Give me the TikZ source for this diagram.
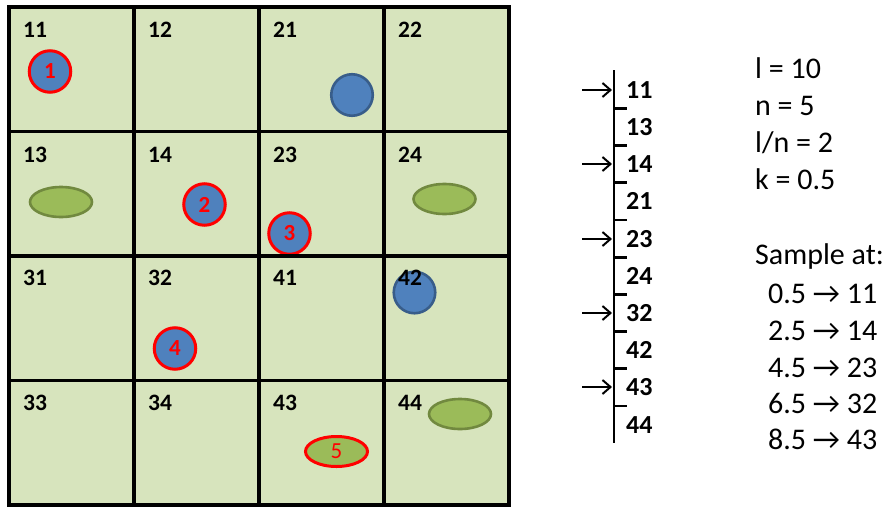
\documentclass[tikz,border=0pt]{standalone}
\usepackage{fontspec}
\setmainfont{Carlito}
\usetikzlibrary{arrows.meta,shapes.geometric}
\definecolor{cellfill}{HTML}{D7E4BD}
\definecolor{bluefill}{HTML}{4F81BD}
\definecolor{blueline}{HTML}{385D8A}
\definecolor{greenfill}{HTML}{9BBB59}
\definecolor{greenline}{HTML}{71893F}
\definecolor{redline}{HTML}{FF0000}
\begin{document}
\begin{tikzpicture}[x=1pt,y=-1pt,
  gridline/.style={line width=3.6pt,black},
  bluedot/.style={circle,fill=bluefill,draw=blueline,line width=2.6pt,minimum size=41.5pt,inner sep=0pt},
  greenoval/.style={ellipse,fill=greenfill,draw=greenline,line width=2.6pt,minimum width=62pt,minimum height=30pt,inner sep=0pt},
  picked/.style={draw=redline,line width=3pt,text=redline,font=\fontsize{23}{27}\selectfont\bfseries},
  celllabel/.style={inner sep=0pt,font=\fontsize{23.5}{28}\selectfont\bfseries},
  axislabel/.style={inner sep=0pt,anchor=west,font=\fontsize{26}{31}\selectfont\bfseries},
  axisline/.style={line width=2.4pt,black},
  pickarrow/.style={line width=2pt,-{Straight Barb[length=8pt,width=14pt,line width=2pt]}},
  sidetext/.style={inner sep=0pt,anchor=base west,font=\fontsize{30}{36}\selectfont}
]
\useasboundingbox (0,0) rectangle (891,506);
% grid background
\fill[cellfill] (9,7) rectangle (509,505);
% shapes
\node[bluedot,picked] (s1) at (50,71.5) {1};
\node[bluedot] (b21) at (352,95) {};
\node[greenoval] (g13) at (61,202) {};
\node[bluedot,picked] (s2) at (204.5,204.5) {2};
\node[bluedot,picked] (s3) at (289.5,233.5) {3};
\node[greenoval] (g24) at (444.5,199) {};
\node[bluedot,picked] (s4) at (175,348.5) {4};
\node[bluedot] (b42) at (414.5,292.5) {};
\node[greenoval] (g44) at (460,414) {};
\node[greenoval,picked,font=\fontsize{23}{27}\selectfont] (s5) at (336.5,451.5) {5};
% grid lines
\draw[gridline] (9,7) rectangle (509,505);
\foreach \gx in {134,259,384} \draw[gridline] (\gx,7) -- (\gx,505);
\foreach \gy in {131.5,256,380.5} \draw[gridline] (9,\gy) -- (509,\gy);
% cell labels
\foreach \lab/\lx/\ly in {11/35/29.5,12/160/29.5,21/285/29.5,22/410/29.5,
  13/35/154.5,14/160/154.5,23/285/154.5,24/410/154.5,
  31/35/278,32/160/278,41/285/278,42/410/278,
  33/35/402.5,34/160/402.5,43/285/402.5,44/410/402.5}
  \node[celllabel] (c\lab) at (\lx,\ly) {\lab};
% axis
\coordinate (axtop) at (614,70);
\coordinate (axbot) at (614,443);
\draw[axisline] (axtop) -- (axbot);
\foreach \lab/\ly in {11/90,13/127,14/164,21/201,23/239,24/276,32/313,42/350,43/387,44/425}
  \node[axislabel] (t\lab) at (626,\ly) {\lab};
\foreach \ty in {108.5,145.5,182.5,220,257.5,294.5,331.5,368.5,406}
  \draw[axisline] (614,\ty) -- (627,\ty);
\foreach \lab/\ly in {11/90,14/164,23/239,32/313,43/387}{
  \coordinate (q\lab) at (582,\ly);
  \coordinate (p\lab) at (612,\ly);
  \draw[pickarrow] (q\lab) -- (p\lab);
}
% side text
\node[sidetext] (l1) at (755,78) {l = 10};
\node[sidetext] (l2) at (755,115) {n = 5};
\node[sidetext] (l3) at (755,152) {l/n = 2};
\node[sidetext] (l4) at (755,189) {k = 0.5};
\node[sidetext] (l5) at (755,264) {Sample at:};
\node[sidetext] (l6) at (768,303) {0.5 → 11};
\node[sidetext] (l7) at (768,340) {2.5 → 14};
\node[sidetext] (l8) at (768,377) {4.5 → 23};
\node[sidetext] (l9) at (768,413) {6.5 → 32};
\node[sidetext] (l10) at (768,449) {8.5 → 43};
\end{tikzpicture}
\end{document}
